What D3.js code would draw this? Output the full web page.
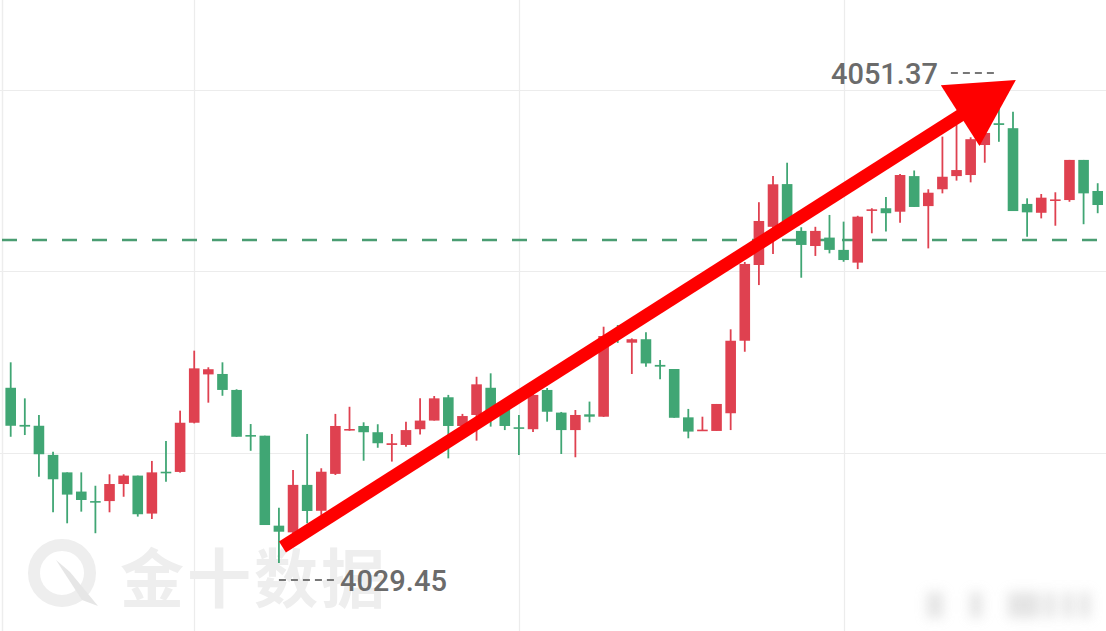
<!DOCTYPE html>
<html lang="zh-CN">
<head>
<meta charset="UTF-8" />
<script src="https://d3js.org/d3.v7.min.js"></script>
<style>
  html, body { margin: 0; padding: 0; background: #fff; overflow: hidden; }
  svg { display: block; }
</style>
</head>
<body>
<svg width="1106" height="631"></svg>
<script>
// K-line values (one candle per slot)
var opens  = [4037.57,4035.85,4035.81,4034.46,4033.65,4032.76,4032.32,4032.32,4033.11,4033.50,
              4031.74,4033.68,4033.67,4035.95,4038.19,4038.21,4037.47,4035.38,4035.35,4031.18,
              4030.87,4033.07,4031.87,4033.58,4035.61,4035.80,4035.51,4034.92,4034.92,4035.65,
              4036.05,4037.13,4035.80,4036.31,4037.57,4036.62,4035.74,4035.65,4037.47,4036.42,
              4035.61,4036.34,4036.23,4040.25,4039.66,4039.82,4038.63,4038.44,4036.20,4035.58,
              4035.57,4036.39,4039.75,4043.26,4045.03,4047.01,4044.84,4044.14,4044.53,4043.96,
              4043.37,4045.81,4045.89,4045.73,4047.38,4045.99,4046.77,4047.38,4047.43,4048.82,
              4049.83,4049.60,4046.09,4045.68,4046.24,4046.27,4048.13,4046.69];
var highs  = [4038.75,4037.08,4036.31,4034.61,4033.65,4033.65,4033.03,4033.56,4033.56,4033.50,
              4034.18,4035.10,4036.51,4039.29,4038.52,4038.75,4037.50,4035.89,4035.35,4032.01,
              4033.76,4035.43,4033.84,4036.36,4036.69,4035.97,4035.88,4035.43,4036.00,4037.08,
              4037.19,4037.24,4036.36,4038.08,4038.24,4036.77,4036.31,4037.47,4037.56,4036.45,
              4036.54,4036.93,4040.40,4040.48,4039.86,4040.14,4038.86,4038.44,4036.59,4036.23,
              4036.82,4040.28,4043.40,4046.17,4047.38,4048.00,4045.01,4045.03,4045.58,4045.27,
              4045.54,4045.89,4046.41,4047.48,4047.64,4046.77,4049.21,4049.75,4049.18,4049.61,
              4051.37,4050.36,4046.35,4046.55,4046.63,4048.13,4048.13,4047.05];
var lows   = [4035.30,4035.38,4033.45,4031.80,4031.29,4031.83,4030.83,4031.80,4032.52,4031.60,
              4031.49,4033.22,4033.64,4035.92,4036.88,4037.20,4035.30,4034.65,4031.21,4029.45,
              4030.75,4031.29,4031.68,4033.53,4035.58,4034.19,4034.79,4034.15,4034.84,4035.41,
              4036.05,4034.30,4035.61,4035.12,4035.77,4035.61,4034.46,4035.52,4036.00,4034.50,
              4034.35,4035.97,4036.22,4039.65,4038.21,4038.55,4037.96,4036.18,4035.23,4035.58,
              4035.57,4035.61,4039.24,4042.33,4043.77,4044.97,4042.67,4043.68,4043.80,4043.41,
              4043.07,4044.73,4044.81,4045.22,4045.95,4044.03,4046.58,4047.17,4047.09,4048.00,
              4048.97,4045.76,4044.57,4045.42,4045.08,4046.19,4045.15,4045.66];
var closes = [4035.81,4035.77,4034.49,4033.33,4032.62,4032.37,4032.26,4033.11,4033.50,4031.71,
              4033.65,4033.64,4035.95,4038.47,4038.43,4037.47,4035.30,4035.34,4031.21,4030.90,
              4033.07,4031.86,4033.68,4035.80,4035.66,4035.51,4035.00,4035.00,4035.61,4036.05,
              4037.08,4035.80,4036.26,4037.73,4036.51,4035.80,4035.69,4037.24,4036.46,4035.61,
              4036.31,4036.23,4039.97,4039.88,4039.82,4038.70,4038.55,4036.18,4035.54,4035.63,
              4036.82,4039.75,4043.31,4045.30,4047.00,4045.25,4044.19,4044.84,4043.96,4043.49,
              4045.50,4045.84,4045.66,4047.43,4045.95,4046.61,4047.35,4047.66,4049.09,4049.38,
              4049.75,4045.76,4045.70,4046.38,4046.30,4048.13,4046.58,4046.04];
var slots = d3.range(opens.length);

// grid and reference values
var gridPrices = [4034.55, 4042.98, 4051.37];
var gridSlots = [13, 36, 59];
var refPrice = 4044.42;

// arrow annotation, in (slot, price)
var arrowFrom = [19.25, 4030.19];
var arrowTo = [71.2, 4051.83];

var W = 1106, H = 631;
var upColor = "#df4150", downColor = "#40a674";

var svg = d3.select("svg");

var x = d3.scalePoint().domain(slots).range([10.7, 1097.7]);
var y = d3.scaleLinear().domain([4029.45, 4051.37]).range([563, 90]);
function xAt(i) { return x(0) + i * x.step(); }

var data = slots.map(function (i) {
  return { i: i, o: opens[i], h: highs[i], l: lows[i], c: closes[i] };
});

// grid
var grid = svg.append("g");
grid.selectAll("line.h").data(gridPrices).enter().append("line")
  .attr("x1", 0).attr("x2", W)
  .attr("y1", function (d) { return Math.round(y(d)) + 0.5; })
  .attr("y2", function (d) { return Math.round(y(d)) + 0.5; })
  .attr("stroke", "#ececec").attr("stroke-width", 1.2);
grid.selectAll("line.v").data(gridSlots).enter().append("line")
  .attr("y1", 0).attr("y2", H)
  .attr("x1", function (d) { return Math.round(x(d)) + 0.5; })
  .attr("x2", function (d) { return Math.round(x(d)) + 0.5; })
  .attr("stroke", "#ececec").attr("stroke-width", 1.2);
grid.append("line").attr("x1", 2.5).attr("x2", 2.5).attr("y1", 0).attr("y2", H)
  .attr("stroke", "#ededed").attr("stroke-width", 1.5);

// watermark
var wm = svg.append("g").attr("fill", "#eeeeee");
wm.append("circle").attr("cx", 62).attr("cy", 573).attr("r", 28)
  .attr("fill", "none").attr("stroke", "#eeeeee").attr("stroke-width", 12);
wm.append("path").attr("d", "M56,560 L70,572 L98,606 L82,600 Z").attr("fill", "#e6e6e6");
wm.append("text").attr("x", 120).attr("y", 602)
  .attr("font-family", "'Noto Sans CJK SC', sans-serif")
  .attr("font-weight", 700).attr("font-size", 64)
  .attr("letter-spacing", 3)
  .text("金十数据");

var defs = svg.append("defs");
defs.append("filter").attr("id", "blur")
  .attr("x", "-50%").attr("y", "-50%").attr("width", "200%").attr("height", "200%")
  .append("feGaussianBlur").attr("stdDeviation", 6);
var blob = svg.append("g").attr("filter", "url(#blur)").attr("fill", "#cfcfcf").attr("opacity", 0.55);
[[927, 16], [970, 12], [1008, 32], [1045, 10], [1063, 10], [1080, 10]].forEach(function (b) {
  blob.append("rect").attr("x", b[0]).attr("y", 592).attr("width", b[1]).attr("height", 26);
});

// reference dashed line
svg.append("line")
  .attr("x1", 2).attr("x2", W)
  .attr("y1", y(refPrice)).attr("y2", y(refPrice))
  .attr("stroke", "#4a9d72").attr("stroke-width", 2.5)
  .attr("stroke-dasharray", "15,15");

// candles
var bw = 10.6;
var candles = svg.append("g").selectAll("g").data(data).enter().append("g")
  .attr("fill", function (d) { return d.c >= d.o ? upColor : downColor; })
  .attr("stroke", function (d) { return d.c >= d.o ? upColor : downColor; });
candles.append("line")
  .attr("x1", function (d) { return x(d.i); })
  .attr("x2", function (d) { return x(d.i); })
  .attr("y1", function (d) { return y(d.h); })
  .attr("y2", function (d) { return y(d.l); })
  .attr("stroke-width", 1.8);
candles.append("rect")
  .attr("x", function (d) { return x(d.i) - bw / 2; })
  .attr("width", bw)
  .attr("y", function (d) { return y(Math.max(d.o, d.c)); })
  .attr("height", function (d) { return Math.max(1.6, Math.abs(y(d.o) - y(d.c))); })
  .attr("stroke", "none");

// arrow
var p0 = [xAt(arrowFrom[0]), y(arrowFrom[1])];
var p1 = [xAt(arrowTo[0]), y(arrowTo[1])];
var len = Math.hypot(p1[0] - p0[0], p1[1] - p0[1]);
var u = [(p1[0] - p0[0]) / len, (p1[1] - p0[1]) / len];
var n = [-u[1], u[0]];
var headLen = 66, headHalf = 36;
var base = [p1[0] - u[0] * headLen, p1[1] - u[1] * headLen];
svg.append("line")
  .attr("x1", p0[0]).attr("y1", p0[1])
  .attr("x2", base[0] + u[0] * 4).attr("y2", base[1] + u[1] * 4)
  .attr("stroke", "#fe0000").attr("stroke-width", 13);
svg.append("path")
  .attr("d", d3.line()([p1,
    [base[0] + n[0] * headHalf, base[1] + n[1] * headHalf],
    [base[0] - n[0] * headHalf, base[1] - n[1] * headHalf]]) + "Z")
  .attr("fill", "#fe0000");

// high / low labels
var hi = d3.maxIndex(highs), lo = d3.minIndex(lows);
var lab = svg.append("g")
  .attr("font-family", "Roboto, 'DejaVu Sans', sans-serif")
  .attr("font-weight", 500)
  .attr("font-size", 29).attr("fill", "#6b6b6b");
svg.append("line")
  .attr("x1", x(hi) - 48).attr("x2", x(hi) - 5)
  .attr("y1", y(highs[hi]) - 17).attr("y2", y(highs[hi]) - 17)
  .attr("stroke", "#777").attr("stroke-width", 2).attr("stroke-dasharray", "7,5");
lab.append("text").attr("x", x(hi) - 61).attr("y", y(highs[hi]) - 6)
  .attr("text-anchor", "end").text(highs[hi].toFixed(2));
svg.append("line")
  .attr("x1", x(lo)).attr("x2", x(lo) + 55)
  .attr("y1", y(lows[lo]) + 17).attr("y2", y(lows[lo]) + 17)
  .attr("stroke", "#777").attr("stroke-width", 2).attr("stroke-dasharray", "7,5");
lab.append("text").attr("x", x(lo) + 61).attr("y", y(lows[lo]) + 28)
  .attr("text-anchor", "start").text(lows[lo].toFixed(2));
</script>
</body>
</html>
